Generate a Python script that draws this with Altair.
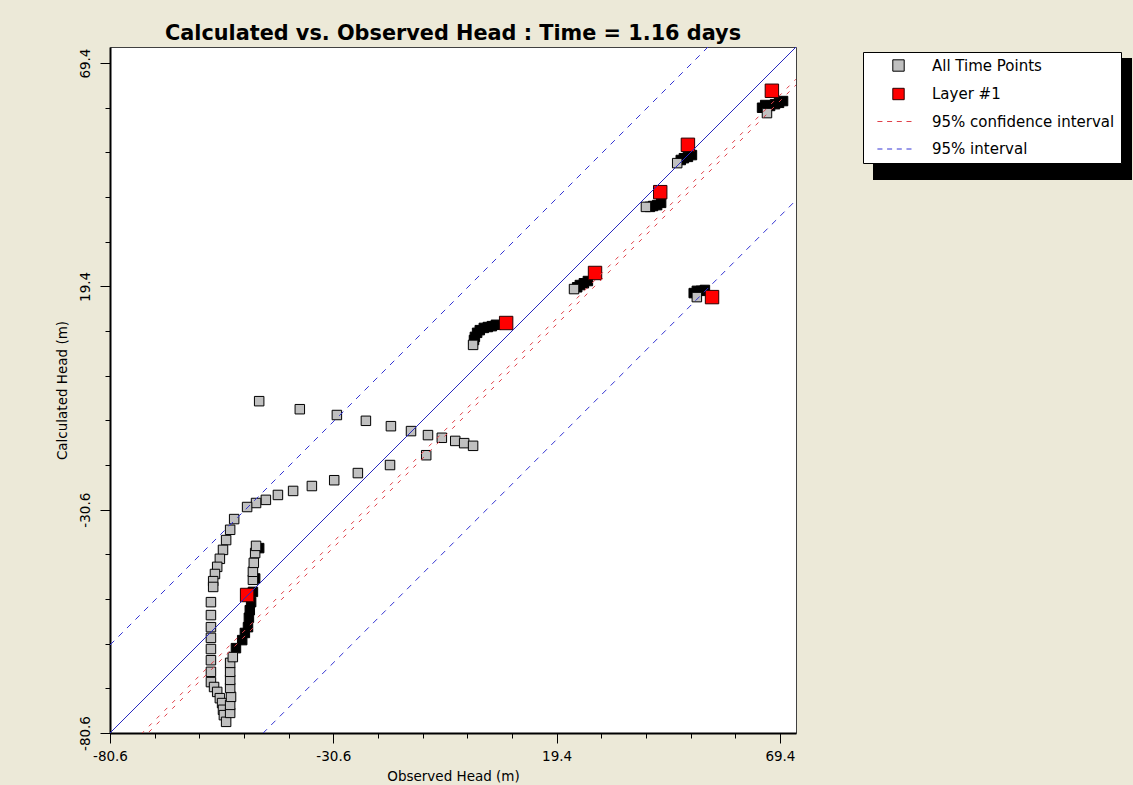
import altair as alt
import pandas as pd

# Shared axis range so the 1:1 line runs corner to corner
LO, HI = -80.6, 73.0
tick_values = [round(-80.6 + 10 * i, 1) for i in range(16)]

# All time points (observed, calculated)
all_obs = [
    -47.2, -38.1, -29.8, -23.3, -17.7, -13.2, -9.4, -6.3, -3.3, -1.3, 0.7,
    -9.8, -17.9, -25.1, -30.4, -35.4, -39.6, -43.0, -45.7, -47.9, -49.9,
    -52.8, -53.7, -54.6, -55.3, -56.0, -56.6, -57.1, -57.5, -57.5, -58.0,
    -58.0, -58.0, -58.0, -58.0, -58.0, -58.0, -58.0, -57.3, -56.6, -56.0,
    -55.5, -55.3, -55.1, -54.6,
    -53.7, -53.7, -53.5, -53.7, -53.7, -53.7, -53.7, -53.1,
    -48.6, -48.6, -48.4, -48.1, -47.9,
    0.7, 23.3, 39.4, 46.4, 66.5, 50.8,
]
all_calc = [
    -6.3, -8.1, -9.4, -10.7, -11.9, -13.0, -13.9, -14.5, -15.2, -15.7, -16.3,
    -18.4, -20.6, -22.4, -24.0, -25.3, -26.4, -27.3, -28.4, -29.1, -30.0,
    -32.7, -35.1, -37.4, -39.6, -41.6, -43.4, -45.0, -46.6, -47.9, -51.3,
    -54.2, -56.9, -59.3, -61.8, -64.3, -66.9, -69.2, -70.3, -71.4, -72.8,
    -73.9, -75.4, -76.6, -78.1,
    -76.1, -74.3, -72.5, -70.5, -68.7, -66.9, -64.9, -63.6,
    -46.3, -44.5, -42.5, -40.3, -38.7,
    6.3, 18.8, 37.2, 47.0, 58.2, 17.0,
]

# Earlier time steps piled up behind each well's latest marker
prev_obs = [
    -52.4, -51.0, -50.4, -49.7, -49.5, -49.3, -49.0, -48.6, -48.1, -47.2,
    5.8, 4.9, 4.0, 3.1, 2.2, 1.6, 1.1, 0.9,
    26.4, 25.5, 24.6, 24.0,
    42.8, 41.9, 41.0, 40.3,
    49.7, 48.8, 47.9, 47.2,
    70.1, 69.2, 68.3, 67.2, 66.1, 65.4,
    52.6, 51.7, 50.8, 50.1,
]
prev_calc = [
    -61.6, -59.8, -58.2, -56.9, -54.8, -53.1, -51.3, -49.0, -46.0, -39.2,
    10.8, 10.5, 10.3, 10.1, 9.6, 9.0, 8.1, 7.4,
    20.6, 20.1, 19.7, 19.2,
    38.1, 37.6, 37.4, 37.2,
    48.8, 48.4, 48.1, 47.7,
    60.9, 60.5, 60.2, 59.8, 60.0, 59.4,
    18.6, 18.4, 18.4, 17.9,
]

# Layer #1 at the current time
layer_obs = [-49.9, 8.1, 28.0, 42.6, 48.8, 67.6, 54.2]
layer_calc = [-49.7, 11.2, 22.4, 40.5, 51.1, 63.2, 17.0]

# Interval lines as offsets of calculated from observed head
ci_offsets = [-7.2, -8.5]
pi_offsets = [19.7, -34.3]

SERIES = ["All Time Points", "Layer #1", "95% confidence interval", "95% interval"]
RED_DASH = "#E0404A"
BLUE_DASH = "#3434D4"
# Legend glyph for the dashed lines: four short strokes
DASH = "M-3.7,0H-2.82M-2,0H-1.12M-0.3,0H0.58M1.4,0H2.28"

fill_scale = alt.Scale(domain=SERIES, range=["#C0C0C0", "#FF0000", "transparent", "transparent"])
stroke_scale = alt.Scale(domain=SERIES, range=["#000000", "#2A0000", RED_DASH, BLUE_DASH])
shape_scale = alt.Scale(domain=SERIES, range=["square", "square", DASH, DASH])

FONT = "DejaVu Sans"

major_test = "abs(round((datum.value + 80.6) / 50) * 50 - (datum.value + 80.6)) < 0.01"
label_expr = (
    f"({major_test}) ? ((datum.value < 0 ? '-' : '') + format(abs(datum.value), '.1f')) : ''"
)
tick_size = {"condition": {"test": major_test, "value": 10}, "value": 5}

x_enc = alt.X(
    "obs:Q",
    scale=alt.Scale(domain=[LO, HI], nice=False, zero=False),
    axis=alt.Axis(values=tick_values, labelExpr=label_expr, tickSize=tick_size,
                  title="Observed Head (m)", labelFlush=False, labelOverlap=False,
                  labelPadding=6, titlePadding=7),
)
y_enc = alt.Y(
    "calc:Q",
    scale=alt.Scale(domain=[LO, HI], nice=False, zero=False),
    axis=alt.Axis(values=tick_values, labelExpr=label_expr, tickSize=tick_size,
                  title="Calculated Head (m)", labelFlush=False, labelOverlap=False,
                  labelAngle=270, labelAlign="center", labelBaseline="bottom",
                  labelPadding=8, titlePadding=9),
)

def square_layer(df, size):
    return alt.Chart(df).mark_point(filled=True, size=size, strokeWidth=1, opacity=1).encode(
        x=x_enc, y=y_enc,
        fill=alt.Fill("series:N", scale=fill_scale, legend=alt.Legend(title=None)),
        stroke=alt.Stroke("series:N", scale=stroke_scale, legend=alt.Legend(title=None)),
        shape=alt.Shape("series:N", scale=shape_scale, legend=alt.Legend(title=None)),
    )

all_df = pd.DataFrame({"obs": all_obs, "calc": all_calc, "series": SERIES[0]})
prev_df = pd.DataFrame({"obs": prev_obs, "calc": prev_calc})
layer_df = pd.DataFrame({"obs": layer_obs, "calc": layer_calc, "series": SERIES[1]})

line_rows = []
for i, off in enumerate(ci_offsets):
    for xv in (LO, HI):
        line_rows.append({"obs": xv, "calc": xv + off, "series": SERIES[2], "line": f"ci{i}"})
for i, off in enumerate(pi_offsets):
    for xv in (LO, HI):
        line_rows.append({"obs": xv, "calc": xv + off, "series": SERIES[3], "line": f"pi{i}"})
lines_df = pd.DataFrame(line_rows)
ident_df = pd.DataFrame({"obs": [LO, HI], "calc": [LO, HI]})

# Drop shadow behind the legend box
shadow = alt.Chart(pd.DataFrame({"k": [0]})).mark_rect(color="black").encode(
    x=alt.value(763), x2=alt.value(1022), y=alt.value(11), y2=alt.value(133)
)

prev_layer = alt.Chart(prev_df).mark_point(
    filled=True, shape="square", size=90, color="black", stroke="black", strokeWidth=1, opacity=1
).encode(x=x_enc, y=y_enc)

gray_layer = square_layer(all_df, 90)
red_layer = square_layer(layer_df, 180)

ident_line = alt.Chart(ident_df).mark_line(color="#2828C0", strokeWidth=1, clip=True).encode(
    x=x_enc, y=y_enc
)

def dashed(series, color, dash):
    return alt.Chart(lines_df[lines_df.series == series]).mark_line(
        color=color, strokeWidth=1, strokeDash=dash, clip=True
    ).encode(x=x_enc, y=y_enc, detail="line:N")

ci_layer = dashed(SERIES[2], RED_DASH, [4, 7])
pi_layer = dashed(SERIES[3], BLUE_DASH, [6, 6])

chart = alt.layer(
    shadow, prev_layer, gray_layer, red_layer, ident_line, ci_layer, pi_layer
).properties(
    width=686,
    height=686,
    padding={"left": 110, "top": 47, "right": 337, "bottom": 52},
    autosize=alt.AutoSizeParams(type="none"),
    background="#ECE9D8",
    title=alt.TitleParams(
        "Calculated vs. Observed Head : Time = 1.16 days",
        font=FONT, fontSize=20.8, fontWeight="bold", color="black",
        anchor="middle", offset=2,
    ),
).configure_view(
    fill="white", stroke="#404040", strokeWidth=1
).configure_axis(
    grid=False, domainColor="black", domainWidth=2, tickColor="black", tickWidth=1,
    labelColor="black", titleColor="black", labelFont=FONT, titleFont=FONT,
    labelFontSize=13.5, titleFontSize=13.5, titleFontWeight="normal",
).configure_legend(
    orient="none", legendX=753, legendY=5, fillColor="white", strokeColor="black",
    strokeWidth=1, padding=6, symbolSize=130, symbolStrokeWidth=1, symbolOffset=22,
    labelFont=FONT, labelFontSize=15, labelColor="black", labelOffset=26,
    rowPadding=11.5, labelLimit=300,
)

chart.save("out.html", embed_options={"renderer": "svg", "actions": False})
